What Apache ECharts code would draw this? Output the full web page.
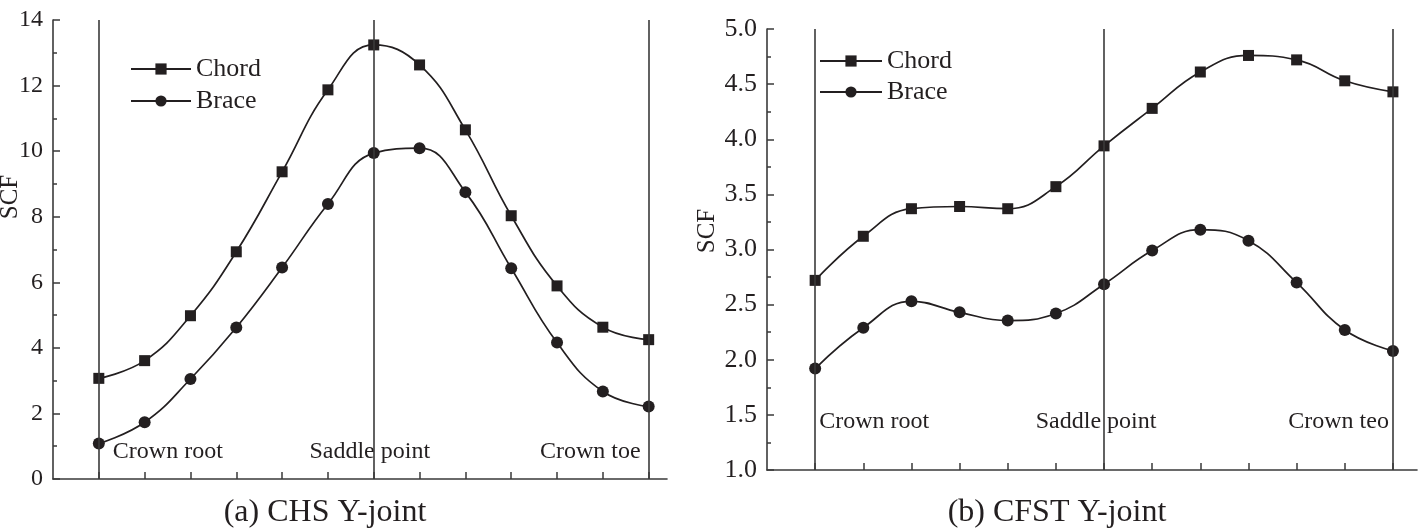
<!DOCTYPE html>
<html>
<head>
<meta charset="utf-8">
<script src="https://cdn.jsdelivr.net/npm/echarts@6/dist/echarts.min.js"></script>
<style>
  html, body { margin: 0; padding: 0; background: #fff; }
  #chart { width: 1422px; height: 532px; }
</style>
</head>
<body>
<div id="chart"></div>
<script>
// ---- Data ----
const positions = [0, 1, 2, 3, 4, 5, 6, 7, 8, 9, 10, 11, 12];
const seriesNames = ['Chord', 'Brace'];

// (a) CHS Y-joint
const chordCHS = [3.07, 3.61, 4.98, 6.93, 9.37, 11.87, 13.24, 12.63, 10.65, 8.03, 5.89, 4.63, 4.25];
const braceCHS = [1.08, 1.73, 3.05, 4.62, 6.45, 8.39, 9.94, 10.09, 8.75, 6.43, 4.16, 2.67, 2.21];

// (b) CFST Y-joint
const chordCFST = [2.72, 3.12, 3.37, 3.39, 3.37, 3.57, 3.94, 4.28, 4.61, 4.76, 4.72, 4.53, 4.43];
const braceCFST = [1.92, 2.29, 2.53, 2.43, 2.355, 2.42, 2.685, 2.99, 3.18, 3.08, 2.70, 2.27, 2.08];

// reference lines and annotations
const refPositions = [0, 6, 12];
const annotationsCHS = ['Crown root', 'Saddle point', 'Crown toe'];
const annotationsCFST = ['Crown root', 'Saddle point', 'Crown teo'];
const titleA = '(a) CHS Y-joint';
const titleB = '(b) CFST Y-joint';
const yNameText = 'SCF';

// ---- Styles ----
const FONT = "'Liberation Serif', 'Times New Roman', serif";
const INK = '#231f20';
const AXIS = '#3a3a3a';

function pairs(ys) { return positions.map((x, i) => [x, ys[i]]); }

function xAxisCfg(gridIndex, max) {
  return {
    type: 'value', gridIndex: gridIndex, min: -1, max: max, interval: 1,
    axisLine: { show: true, onZero: false, lineStyle: { color: AXIS, width: 1.6 } },
    axisTick: { show: true, inside: true, length: 7, lineStyle: { color: AXIS, width: 1.5 }, customValues: positions },
    axisLabel: { show: false },
    splitLine: { show: false }
  };
}
function yAxisCfg(gridIndex, min, max, interval, fontSize, fmt) {
  return {
    type: 'value', gridIndex: gridIndex, min: min, max: max, interval: interval,
    axisLine: { show: true, onZero: false, lineStyle: { color: AXIS, width: 1.6 } },
    axisTick: { show: true, inside: true, length: 7, lineStyle: { color: AXIS, width: 1.5 } },
    minorTick: { show: true, splitNumber: 2, length: 4, lineStyle: { color: AXIS, width: 1.5 } },
    axisLabel: { color: INK, fontFamily: FONT, fontSize: fontSize, margin: 10, formatter: fmt },
    splitLine: { show: false }
  };
}
function lineSeries(name, ys, gi, symbol, size, withRefs) {
  const s = {
    name: name, type: 'line', xAxisIndex: gi, yAxisIndex: gi,
    data: pairs(ys), smooth: 0.45, symbol: symbol, symbolSize: size,
    lineStyle: { color: INK, width: 1.7 }, itemStyle: { color: INK },
    z: 3
  };
  if (withRefs) {
    s.markLine = {
      silent: true, symbol: ['none', 'none'],
      label: { show: false },
      lineStyle: { color: AXIS, width: 1.6, type: 'solid' },
      data: refPositions.map(x => ({ xAxis: x }))
    };
  }
  return s;
}
function annoSeries(gi, labels, yVal, specs) {
  return {
    type: 'scatter', xAxisIndex: gi, yAxisIndex: gi, symbolSize: 0, silent: true,
    itemStyle: { opacity: 1 },
    data: refPositions.map((x, i) => ({
      value: [x, yVal],
      label: Object.assign({ show: true, formatter: labels[i], color: INK, opacity: 1, fontFamily: FONT, fontSize: 24 }, specs[i])
    }))
  };
}

const option = {
  backgroundColor: '#fff',
  animation: false,
  grid: [
    { left: 53, top: 20, width: 614, height: 459 },
    { left: 767, top: 29, width: 650, height: 441 }
  ],
  xAxis: [ xAxisCfg(0, 12.4), xAxisCfg(1, 12.5) ],
  yAxis: [
    yAxisCfg(0, 0, 14, 2, 24, v => String(v)),
    yAxisCfg(1, 1, 5, 0.5, 26, v => v.toFixed(1))
  ],
  legend: [
    { orient: 'vertical', left: 125, top: 51, itemGap: 6, itemWidth: 60, itemHeight: 14,
      data: seriesNames, textStyle: { color: INK, fontFamily: FONT, fontSize: 26 }, selectedMode: false },
    { orient: 'vertical', left: 814, top: 43, itemGap: 5, itemWidth: 62, itemHeight: 14,
      data: seriesNames, textStyle: { color: INK, fontFamily: FONT, fontSize: 26 }, selectedMode: false }
  ],
  graphic: [
    { type: 'text', style: { text: titleA, font: "32px 'Liberation Serif', serif", fill: INK, x: 325, y: 513, align: 'center', verticalAlign: 'middle' } },
    { type: 'text', style: { text: titleB, font: "32px 'Liberation Serif', serif", fill: INK, x: 1057, y: 513, align: 'center', verticalAlign: 'middle' } },
    { type: 'text', x: 10, y: 197, rotation: Math.PI / 2, style: { text: yNameText, font: "25px 'Liberation Serif', serif", fill: INK, align: 'center', verticalAlign: 'middle' } },
    { type: 'text', x: 707, y: 231, rotation: Math.PI / 2, style: { text: yNameText, font: "25px 'Liberation Serif', serif", fill: INK, align: 'center', verticalAlign: 'middle' } }
  ],
  series: [
    lineSeries(seriesNames[0], chordCHS, 0, 'rect', 11, true),
    lineSeries(seriesNames[1], braceCHS, 0, 'circle', 12, false),
    lineSeries(seriesNames[0], chordCFST, 1, 'rect', 11, true),
    lineSeries(seriesNames[1], braceCFST, 1, 'circle', 12, false),
    annoSeries(0, annotationsCHS, 0.83, [
      { position: 'right', distance: 14 },
      { position: 'inside', offset: [-4, 0] },
      { position: 'left', distance: 8 }
    ]),
    annoSeries(1, annotationsCFST, 1.435, [
      { position: 'right', distance: 4 },
      { position: 'inside', offset: [-8, 0] },
      { position: 'left', distance: 4 }
    ])
  ]
};

const chart = echarts.init(document.getElementById('chart'), null, { renderer: 'canvas' });
chart.setOption(option);
</script>
</body>
</html>
